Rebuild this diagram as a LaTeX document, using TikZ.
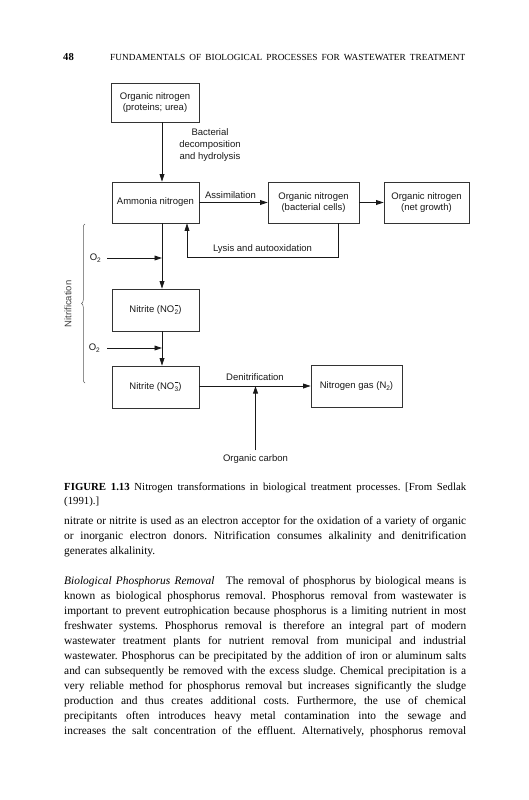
\documentclass[tikz,border=0pt]{standalone}
\usepackage{fontspec}
\setmainfont{Liberation Serif}
\newfontfamily\diagfont{Liberation Sans}
\usetikzlibrary{arrows.meta,decorations.pathreplacing}
\frenchspacing
\newcommand\jline[1]{\makebox[402pt][s]{#1}}
\newcommand\smallsub[1]{\raisebox{-2.2pt}{\fontsize{6.5}{6.5}\selectfont #1}}
\newcommand\ionsub[1]{\makebox[4pt][c]{\raisebox{-2.2pt}{\fontsize{6.5}{6.5}\selectfont #1}}\kern-4pt\makebox[4pt][c]{\raisebox{6.3pt}{\rule{3.6pt}{0.55pt}}}}
\begin{document}
\frenchspacing
\begin{tikzpicture}[x=1pt,y=-1pt,
  box/.style={draw=black!80, line width=0.6pt, inner sep=0pt, align=center,
    font=\diagfont\fontsize{9.5}{11.6}\selectfont, text=black!90},
  lbl/.style={inner sep=0pt, align=center, font=\diagfont\fontsize{9.5}{12}\selectfont, text=black!90},
  arr/.style={draw=black!90, line width=0.8pt, -{Triangle[length=7.5pt,width=4.8pt]}},
  txt/.style={inner sep=0pt, anchor=base west, font=\fontsize{11.4}{15}\selectfont},
  captext/.style={inner sep=0pt, anchor=base west, font=\fontsize{10.8}{15}\selectfont}]
\useasboundingbox (0,0) rectangle (529,800);
\fill[white] (0,0) rectangle (529,800);

% header
\node[inner sep=0pt, anchor=base west, font=\bfseries\fontsize{10.6}{12}\selectfont] (pgno) at (63,61) {48};
\node[inner sep=0pt, anchor=base west, font=\fontsize{9.3}{11}\selectfont] (runhead) at (110,61)
  {\makebox[355pt][s]{FUNDAMENTALS OF BIOLOGICAL PROCESSES FOR WASTEWATER TREATMENT}};

% diagram boxes
\node[box, minimum width=88pt, minimum height=39pt] (orgn) at (155,102.5) {Organic nitrogen\\(proteins; urea)};
\node[box, minimum width=87pt, minimum height=41pt] (amm) at (155.5,202.5) {Ammonia nitrogen};
\node[box, minimum width=91pt, minimum height=41pt] (bact) at (313.5,202.5) {Organic nitrogen\\(bacterial cells)};
\node[box, minimum width=85pt, minimum height=41pt] (net) at (426.5,202.5) {Organic nitrogen\\(net growth)};
\node[box, minimum width=87pt, minimum height=42pt] (no2) at (155.5,310) {Nitrite (NO\ionsub{2})};
\node[box, minimum width=87pt, minimum height=42pt] (no3) at (155.5,387) {Nitrite (NO\ionsub{3})};
\node[box, minimum width=91pt, minimum height=42pt] (ngas) at (356.5,386) {Nitrogen gas (N\smallsub{2})};

% labels
\node[lbl] (bdh) at (210,145) {Bacterial\\decomposition\\and hydrolysis};
\node[lbl] (assim) at (230.5,195) {Assimilation};
\node[lbl] (lysis) at (262.5,249) {Lysis and autooxidation};
\node[lbl] (denit) at (255,377) {Denitrification};
\node[lbl] (ocarb) at (255.5,459) {Organic carbon};
\node[lbl, anchor=east] (oxa) at (101,258) {O\smallsub{2}};
\node[lbl, anchor=east] (oxb) at (100,348) {O\smallsub{2}};
\node[lbl, rotate=90, text=black!75] (nitrif) at (68,304) {Nitrification};

% coordinates
\coordinate (vx) at (162,0);
\coordinate (lysA) at (338,257);
\coordinate (lysB) at (187,257);
\coordinate (dmid) at (255.5,386);
\coordinate (ocTop) at (255.5,450);
\coordinate (brTop) at (85,224);
\coordinate (brBot) at (85,383);

% connectors
\draw[arr] (orgn.south -| vx) -- (amm.north -| vx);
\draw[arr] (amm.east) -- (bact.west);
\draw[arr] (bact.east) -- (net.west);
\draw[arr] (bact.south -| lysA) -- (lysA) -- (lysB) -- (amm.south -| lysB);
\draw[arr] (amm.south -| vx) -- (no2.north -| vx);
\draw[arr] ([xshift=6pt]oxa.east) -- (oxa.east -| vx);
\draw[arr] (no2.south -| vx) -- (no3.north -| vx);
\draw[arr] ([xshift=7pt]oxb.east) -- (oxb.east -| vx);
\draw[arr] (no3.east |- dmid) -- (ngas.west |- dmid);
\draw[arr] (ocarb.north |- ocTop) -- (dmid);
\draw[draw=black!65, line width=0.5pt, decorate, decoration={brace, amplitude=3.5pt}] (brBot) -- (brTop);

% caption
\node[captext] (cap1) at (64,490) {\jline{\textbf{FIGURE 1.13} Nitrogen transformations in biological treatment processes. [From Sedlak}};
\node[captext] (cap2) at (64,504) {(1991).]};

% paragraph 1
\node[txt] (p1a) at (64,524) {\jline{nitrate or nitrite is used as an electron acceptor for the oxidation of a variety of organic}};
\node[txt] (p1b) at (64,539) {\jline{or inorganic electron donors. Nitrification consumes alkalinity and denitrification}};
\node[txt] (p1c) at (64,554) {generates alkalinity.};

% paragraph 2
\node[txt] (p2a) at (64,584) {\jline{\textit{Biological Phosphorus Removal}\hspace{1em}The removal of phosphorus by biological means is}};
\node[txt] (p2b) at (64,599) {\jline{known as biological phosphorus removal. Phosphorus removal from wastewater is}};
\node[txt] (p2c) at (64,614) {\jline{important to prevent eutrophication because phosphorus is a limiting nutrient in most}};
\node[txt] (p2d) at (64,629) {\jline{freshwater systems. Phosphorus removal is therefore an integral part of modern}};
\node[txt] (p2e) at (64,644) {\jline{wastewater treatment plants for nutrient removal from municipal and industrial}};
\node[txt] (p2f) at (64,659) {\jline{wastewater. Phosphorus can be precipitated by the addition of iron or aluminum salts}};
\node[txt] (p2g) at (64,674) {\jline{and can subsequently be removed with the excess sludge. Chemical precipitation is a}};
\node[txt] (p2h) at (64,689) {\jline{very reliable method for phosphorus removal but increases significantly the sludge}};
\node[txt] (p2i) at (64,704) {\jline{production and thus creates additional costs. Furthermore, the use of chemical}};
\node[txt] (p2j) at (64,719) {\jline{precipitants often introduces heavy metal contamination into the sewage and}};
\node[txt] (p2k) at (64,734) {\jline{increases the salt concentration of the effluent. Alternatively, phosphorus removal}};
\end{tikzpicture}
\end{document}
